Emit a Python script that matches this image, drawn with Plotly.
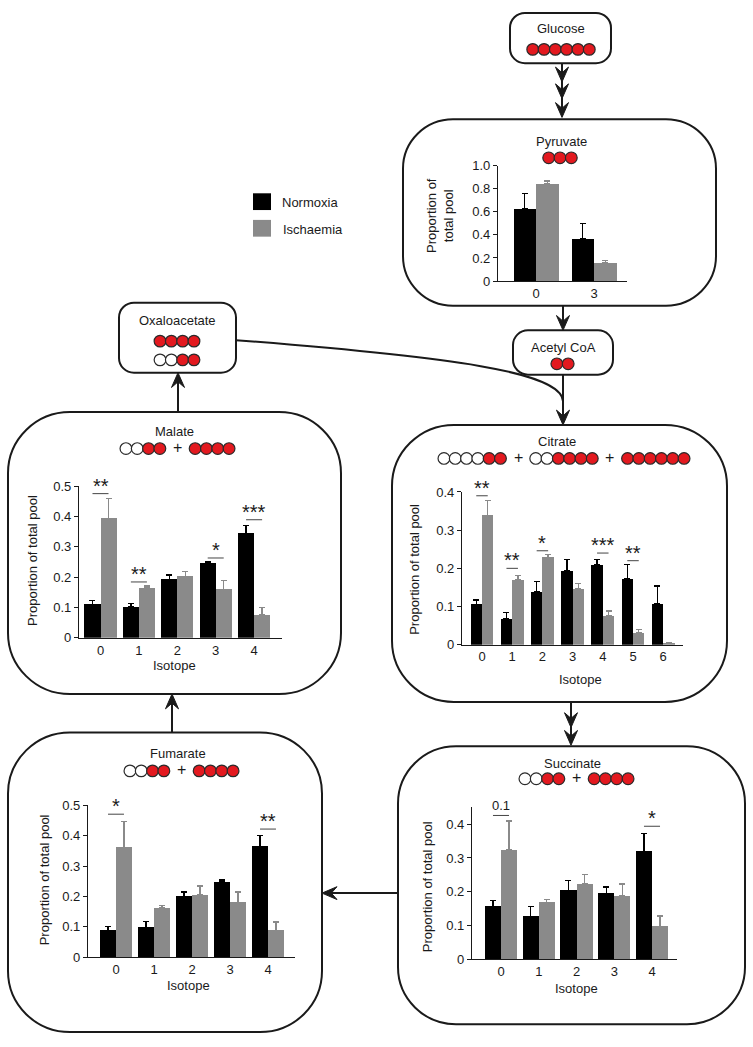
import plotly.graph_objects as go

W, H = 753, 1047

# ---------------- data ----------------
pyr_iso = ['0', '3']
pyr_norm = [0.63, 0.37]
pyr_norm_err = [0.13, 0.13]
pyr_isch = [0.84, 0.16]
pyr_isch_err = [0.026, 0.02]

mal_iso = ['0', '1', '2', '3', '4']
mal_norm = [0.110, 0.103, 0.193, 0.248, 0.344]
mal_norm_err = [0.014, 0.010, 0.014, 0.004, 0.026]
mal_isch = [0.393, 0.165, 0.203, 0.160, 0.075]
mal_isch_err = [0.067, 0.006, 0.016, 0.029, 0.024]
mal_sig_idx = [0, 1, 3, 4]
mal_sig_txt = ['**', '**', '*', '***']
mal_sig_y = [0.475, 0.184, 0.263, 0.389]

cit_iso = ['0', '1', '2', '3', '4', '5', '6']
cit_norm = [0.106, 0.067, 0.138, 0.193, 0.210, 0.173, 0.108]
cit_norm_err = [0.011, 0.018, 0.028, 0.030, 0.013, 0.037, 0.046]
cit_isch = [0.339, 0.170, 0.229, 0.146, 0.076, 0.032, 0.003]
cit_isch_err = [0.038, 0.011, 0.007, 0.015, 0.012, 0.008, 0.003]
cit_sig_idx = [0, 1, 2, 4, 5]
cit_sig_txt = ['**', '**', '*', '***', '**']
cit_sig_y = [0.390, 0.200, 0.246, 0.240, 0.220]

fum_iso = ['0', '1', '2', '3', '4']
fum_norm = [0.089, 0.098, 0.199, 0.248, 0.364]
fum_norm_err = [0.011, 0.019, 0.016, 0.006, 0.036]
fum_isch = [0.361, 0.162, 0.205, 0.181, 0.087]
fum_isch_err = [0.087, 0.009, 0.029, 0.034, 0.029]
fum_sig_idx = [0, 4]
fum_sig_txt = ['*', '**']
fum_sig_y = [0.471, 0.422]

suc_iso = ['0', '1', '2', '3', '4']
suc_norm = [0.156, 0.126, 0.204, 0.194, 0.319]
suc_norm_err = [0.017, 0.030, 0.029, 0.020, 0.053]
suc_isch = [0.324, 0.168, 0.223, 0.187, 0.097]
suc_isch_err = [0.086, 0.008, 0.028, 0.036, 0.031]
suc_sig_idx = [0, 4]
suc_sig_txt = ['0.1', '*']
suc_sig_y = [0.426, 0.394]

series_names = ['Normoxia', 'Ischaemia']

# ---------------- styling ----------------
FONT = "Liberation Sans, Arial, Helvetica, sans-serif"
INK = '#1a1a1a'
RED = '#e3191f'
BLACK = '#000000'
GREY = '#8a8a8a'
FS = 13


def X(p):
    return p / W


def Y(p):
    return 1 - p / H


def pt(x, y):
    return f"{X(x):.5f},{Y(y):.5f}"


shapes = []
annotations = []


def text(x, y, s, size=FS, **kw):
    d = dict(x=X(x), y=Y(y), xref='paper', yref='paper', text=s, showarrow=False,
             font=dict(size=size, color=INK, family=FONT), xanchor='center', yanchor='middle')
    d.update(kw)
    annotations.append(d)


def box(x0, y0, x1, y1, r):
    k = 0.552 * r
    d = (f"M {pt(x0 + r, y0)} L {pt(x1 - r, y0)} C {pt(x1 - r + k, y0)} {pt(x1, y0 + r - k)} {pt(x1, y0 + r)} "
         f"L {pt(x1, y1 - r)} C {pt(x1, y1 - r + k)} {pt(x1 - r + k, y1)} {pt(x1 - r, y1)} "
         f"L {pt(x0 + r, y1)} C {pt(x0 + r - k, y1)} {pt(x0, y1 - r + k)} {pt(x0, y1 - r)} "
         f"L {pt(x0, y0 + r)} C {pt(x0, y0 + r - k)} {pt(x0 + r - k, y0)} {pt(x0 + r, y0)} Z")
    shapes.append(dict(type='path', xref='paper', yref='paper', path=d,
                       line=dict(color=INK, width=2), fillcolor='rgba(0,0,0,0)'))


def line(x0, y0, x1, y1, w=2):
    shapes.append(dict(type='line', xref='paper', yref='paper', x0=X(x0), y0=Y(y0), x1=X(x1), y1=Y(y1),
                       line=dict(color=INK, width=w)))


def head(tx, ty, direction, L=15, wd=13):
    ux, uy = {'down': (0, 1), 'up': (0, -1), 'left': (-1, 0), 'right': (1, 0)}[direction]
    bx, by = tx - ux * L, ty - uy * L
    px_, py_ = -uy, ux
    lx, ly = bx + px_ * wd / 2, by + py_ * wd / 2
    rx, ry = bx - px_ * wd / 2, by - py_ * wd / 2
    nx, ny = tx - ux * L * 0.62, ty - uy * L * 0.62
    d = f"M {pt(tx, ty)} L {pt(lx, ly)} L {pt(nx, ny)} L {pt(rx, ry)} Z"
    shapes.append(dict(type='path', xref='paper', yref='paper', path=d,
                       line=dict(color=INK, width=1), fillcolor=INK))


def atoms(groups, cx, cy, s=11.3, d=11.8, gap=24):
    n = sum(len(g) for g in groups)
    total = n * s + (len(groups) - 1) * gap
    x = cx - total / 2
    for gi, g in enumerate(groups):
        for ch in g:
            c = x + s / 2
            shapes.append(dict(type='circle', xref='paper', yref='paper',
                               x0=X(c - d / 2), x1=X(c + d / 2), y0=Y(cy + d / 2), y1=Y(cy - d / 2),
                               fillcolor=RED if ch == 'R' else 'white',
                               line=dict(color='#2a2a2a', width=1.2)))
            x += s
        if gi < len(groups) - 1:
            text(x + gap / 2, cy - 1, '+', size=16)
            x += gap


# ---------------- diagram boxes ----------------
box(510, 6, 611, 57, 15)          # Glucose
box(403, 114, 716, 303, 50)       # Pyruvate
box(513, 328, 613, 373, 15)       # Acetyl CoA
box(119, 300, 236, 371, 15)       # Oxaloacetate
box(8, 411, 341, 697, 62)         # Malate
box(392, 424, 727, 705, 62)       # Citrate
box(8, 736, 322, 1040, 62)        # Fumarate
box(398, 750, 745, 1032, 58)      # Succinate

text(561, 22, 'Glucose')
atoms(['RRRRRR'], 561, 43)
text(561, 136, 'Pyruvate')
atoms(['RRR'], 560, 153)
text(563, 345, 'Acetyl CoA')
atoms(['RR'], 562.5, 362)
text(177, 318, 'Oxaloacetate')
atoms(['RRRR'], 177, 339)
atoms(['WWRR'], 177, 358)
text(174, 431, 'Malate')
atoms(['WWRR', 'RRRR'], 177.5, 448)
text(557, 441, 'Citrate')
atoms(['WWWWRR', 'WWRRRR', 'RRRRRR'], 564, 458)
text(177.5, 757, 'Fumarate')
atoms(['WWRR', 'RRRR'], 181.5, 775)
text(572, 767, 'Succinate')
atoms(['WWRR', 'RRRR'], 576.5, 783)

# ---------------- arrows ----------------
line(562, 57, 562, 110)
head(562, 76, 'down')
head(562, 93, 'down')
head(562, 112, 'down')
line(563, 303, 563, 322)
head(563, 328, 'down')
line(563, 373, 563, 418)
head(563, 424, 'down')
shapes.append(dict(type='path', xref='paper', yref='paper',
                   path=f"M {pt(236, 338)} C {pt(450, 355)} {pt(562, 370)} {pt(563, 400)}",
                   line=dict(color=INK, width=2)))
line(571, 705, 571, 745)
head(571, 731, 'down')
head(571, 749, 'down')
line(398, 899, 330, 899)
head(322, 899, 'left')
line(172, 736, 172, 703)
head(172, 697, 'up')
line(178, 411, 178, 377)
head(178, 371, 'up')

# ---------------- legend ----------------
shapes.append(dict(type='rect', xref='paper', yref='paper', x0=X(253), x1=X(271), y0=Y(206), y1=Y(189),
                   fillcolor=BLACK, line=dict(width=0)))
shapes.append(dict(type='rect', xref='paper', yref='paper', x0=X(253), x1=X(271), y0=Y(233), y1=Y(216),
                   fillcolor=GREY, line=dict(width=0)))
text(280, 198, series_names[0], xanchor='left')
text(281, 226, series_names[1], xanchor='left')

# ---------------- bar panels ----------------
panels = [
    dict(iso=pyr_iso, norm=pyr_norm, nerr=pyr_norm_err, isch=pyr_isch, ierr=pyr_isch_err,
         sig=None, left=498, right=627, top=161, bottom=278, ymax=1.0, tmax=1.0, step=0.2,
         c0=536, sp=58, w=0.388, ytitle='Proportion of<br>total pool', yt=(440, 212), xt=None),
    dict(iso=mal_iso, norm=mal_norm, nerr=mal_norm_err, isch=mal_isch, ierr=mal_isch_err,
         sig=(mal_sig_idx, mal_sig_txt, mal_sig_y), left=79, right=282, top=486, bottom=640,
         ymax=0.5, tmax=0.5, step=0.1, c0=100.5, sp=38.4, w=0.417,
         ytitle='Proportion of total pool', yt=(33, 562), xt=(174, 668)),
    dict(iso=cit_iso, norm=cit_norm, nerr=cit_norm_err, isch=cit_isch, ierr=cit_isch_err,
         sig=(cit_sig_idx, cit_sig_txt, cit_sig_y), left=462, right=683, top=492, bottom=647,
         ymax=0.4, tmax=0.4, step=0.1, c0=482, sp=30.2, w=0.38,
         ytitle='Proportion of total pool', yt=(415, 570), xt=(580, 682)),
    dict(iso=fum_iso, norm=fum_norm, nerr=fum_norm_err, isch=fum_isch, ierr=fum_isch_err,
         sig=(fum_sig_idx, fum_sig_txt, fum_sig_y), left=88, right=295, top=810, bottom=964,
         ymax=0.5, tmax=0.5, step=0.1, c0=116, sp=38, w=0.42,
         ytitle='Proportion of total pool', yt=(44, 886), xt=(188, 993)),
    dict(iso=suc_iso, norm=suc_norm, nerr=suc_norm_err, isch=suc_isch, ierr=suc_isch_err,
         sig=(suc_sig_idx, suc_sig_txt, suc_sig_y), left=472, right=677, top=812, bottom=966,
         ymax=0.45, tmax=0.4, step=0.1, c0=501, sp=37.75, w=0.425,
         ytitle='Proportion of total pool', yt=(427, 893), xt=(576, 996)),
]

fig = go.Figure()
layout_axes = {}
for k, p in enumerate(panels, start=1):
    xa = 'x' if k == 1 else f'x{k}'
    ya = 'y' if k == 1 else f'y{k}'
    n = len(p['iso'])
    w = p['w']
    for vals, errs, col, nm, off in [(p['norm'], p['nerr'], BLACK, series_names[0], -w),
                                     (p['isch'], p['ierr'], GREY, series_names[1], 0)]:
        fig.add_trace(go.Bar(
            x=p['iso'], y=vals, width=w, offset=off, name=nm, showlegend=False,
            marker=dict(color=col, line=dict(width=0)),
            error_y=dict(type='data', array=errs, arrayminus=[0] * n, symmetric=False,
                         color=col, thickness=1.3, width=3),
            xaxis=xa, yaxis=ya))
    xr = [(p['left'] - p['c0']) / p['sp'], (p['right'] - p['c0']) / p['sp']]
    nt = int(round(p['tmax'] / p['step']))
    tv = [round(i * p['step'], 2) for i in range(nt + 1)]
    tt = ['0' if v == 0 else f'{v:.1f}' for v in tv]
    layout_axes['xaxis' if k == 1 else f'xaxis{k}'] = dict(
        domain=[X(p['left']), X(p['right'])], anchor=ya, type='category', range=xr,
        showline=True, linecolor=INK, linewidth=1.2, ticks='', showgrid=False, zeroline=False,
        tickfont=dict(size=FS, color=INK, family=FONT), fixedrange=True)
    layout_axes['yaxis' if k == 1 else f'yaxis{k}'] = dict(
        domain=[Y(p['bottom']), Y(p['top'])], anchor=xa, range=[0, p['ymax']],
        tickvals=tv, ticktext=tt, showline=True, linecolor=INK, linewidth=1.2,
        ticks='outside', ticklen=4, tickwidth=1.2, tickcolor=INK, showgrid=False, zeroline=False,
        tickfont=dict(size=FS, color=INK, family=FONT), fixedrange=True)
    # axis titles
    text(p['yt'][0], p['yt'][1], p['ytitle'], textangle=-90)
    if p['xt']:
        text(p['xt'][0], p['xt'][1], 'Isotope')
    # significance marks
    if p['sig']:
        for i, s, h in zip(*p['sig']):
            shapes.append(dict(type='line', xref=xa, yref=ya, x0=i - w / 2, x1=i + w / 2, y0=h, y1=h,
                               line=dict(color='#444444', width=1)))
            is_star = '*' in s
            annotations.append(dict(x=i, y=h, xref=xa, yref=ya, text=s, showarrow=False,
                                    xanchor='center', yanchor='bottom',
                                    yshift=-5 if is_star else 0,
                                    font=dict(size=20 if is_star else FS, color=INK, family=FONT)))

fig.update_layout(
    width=W, height=H, margin=dict(l=0, r=0, t=0, b=0),
    paper_bgcolor='white', plot_bgcolor='rgba(0,0,0,0)',
    font=dict(family=FONT, size=FS, color=INK),
    showlegend=False, barmode='overlay', bargap=0,
    shapes=shapes, annotations=annotations,
    **layout_axes)

fig.write_html("out.html", config={'displayModeBar': False},
               post_script="document.body.style.margin='0';document.body.style.overflow='hidden';")
